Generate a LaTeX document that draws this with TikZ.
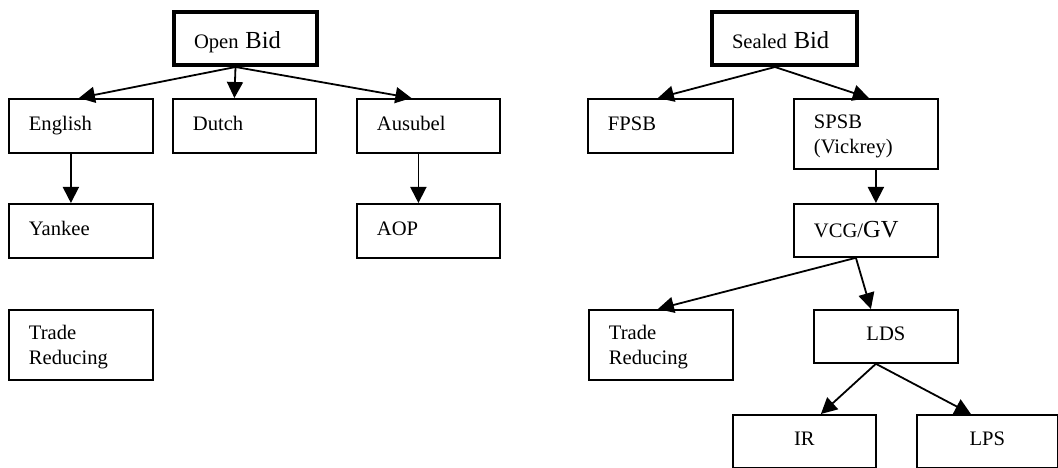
\documentclass[tikz,border=0pt]{standalone}
\usepackage{fontspec}
\setmainfont{Liberation Serif}
\usetikzlibrary{arrows.meta}
\newcommand\fsz{\fontsize{20.6}{24.5}\selectfont}
\newcommand\bigt[1]{{\fontsize{24.5}{24.5}\selectfont #1}}
\tikzset{
  box/.style={draw, line width=1.8pt, anchor=north west, inner xsep=20pt, inner ysep=0pt,
    minimum height=54pt, text width=104pt, align=left, font=\fsz,
    text height=14pt, text depth=5pt},
  twoline/.style={minimum height=70pt, text height=18pt, text depth=28.5pt},
  topbox/.style={line width=4pt, minimum height=53pt, text height=24pt, text depth=4.6pt},
  ctr/.style={align=center},
  arr/.style={line width=1.8pt, -{Triangle[length=16pt,width=16pt]}}
}
\begin{document}
\begin{tikzpicture}[x=1pt,y=-1pt]
\useasboundingbox (0,0) rectangle (1058,468);
% left tree
\node[box,topbox,text width=103pt] (open) at (172,10) {Open \bigt{Bid}};
\node[box] (eng) at (8,98) {English};
\node[box,text width=103pt] (dutch) at (172,98) {Dutch};
\node[box,text width=103pt] (aus) at (356,98) {Ausubel};
\node[box] (yankee) at (8,203) {Yankee};
\node[box,text width=103pt] (aop) at (356,203) {AOP};
\node[box,twoline] (trl) at (8,309) {Trade\\Reducing};
% right tree
\node[box,topbox,text width=105pt] (sealed) at (710,10) {Sealed \bigt{Bid}};
\node[box,text width=105pt] (fpsb) at (587,98) {FPSB};
\node[box,twoline] (spsb) at (793,98) {SPSB\\(Vickrey)};
\node[box,text width=104pt,minimum height=53pt,text height=20pt,text depth=5pt] (vcg) at (793,203) {VCG/\bigt{GV}};
\node[box,twoline] (trr) at (588,309) {Trade\\Reducing};
\node[box,ctr,minimum height=53pt] (lds) at (813,309) {LDS};
\node[box,ctr,text width=103pt,minimum height=53pt] (ir) at (732,414) {IR};
\node[box,ctr,text width=101pt,minimum height=53pt] (lps) at (916,414) {LPS};
% arrows left
\draw[arr] ([xshift=-10pt]open.south) -- ([xshift=-2pt]eng.north);
\draw[arr] ([xshift=-10pt]open.south) -- ([xshift=-10pt]dutch.north);
\draw[arr] ([xshift=-10pt]open.south) -- ([xshift=-17pt]aus.north);
\draw[arr] ([xshift=-10pt]eng.south) -- ([xshift=-10pt]yankee.north);
\draw[arr] ([xshift=-10pt]aus.south) -- ([xshift=-10pt]aop.north);
% arrows right
\draw[arr] ([xshift=-9.5pt]sealed.south) -- ([xshift=-2.5pt]fpsb.north);
\draw[arr] ([xshift=-9.5pt]sealed.south) -- ([xshift=3pt]spsb.north);
\draw[arr] ([xshift=10pt]spsb.south) -- ([xshift=10pt]vcg.north);
\draw[arr] ([xshift=-10pt]vcg.south) -- ([xshift=-3pt]trr.north);
\draw[arr] ([xshift=-10pt]vcg.south) -- ([xshift=-15pt]lds.north);
\draw[arr] ([xshift=-10pt]lds.south) -- ([xshift=16.5pt]ir.north);
\draw[arr] ([xshift=-10pt]lds.south) -- ([xshift=-16.5pt]lps.north);
\end{tikzpicture}
\end{document}
